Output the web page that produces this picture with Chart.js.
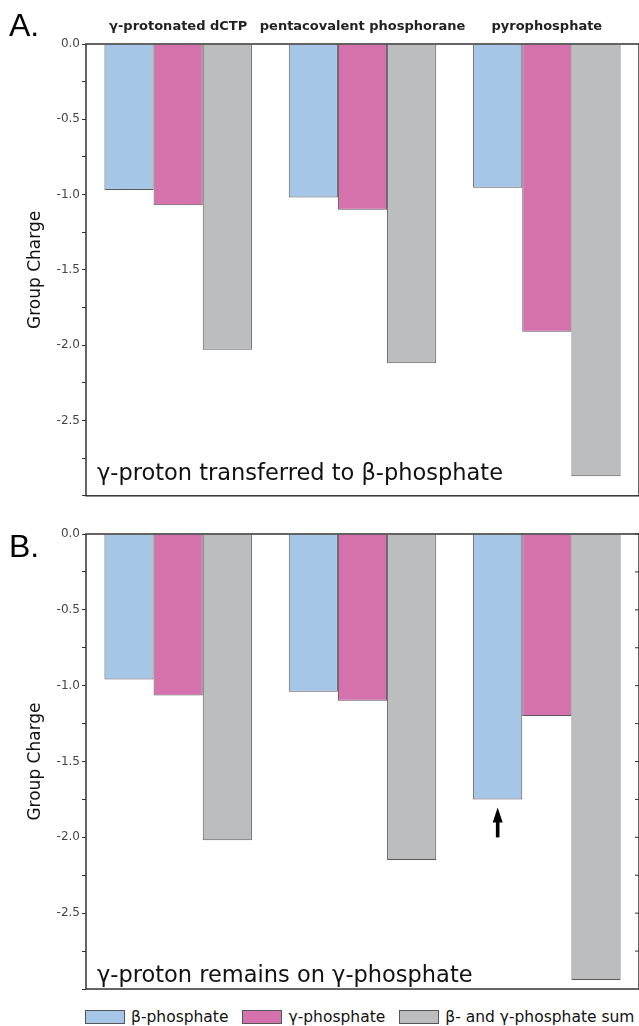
<!DOCTYPE html>
<html>
<head>
<meta charset="utf-8">
<script src="https://cdn.jsdelivr.net/npm/chart.js@4.4.0/dist/chart.umd.min.js"></script>
<style>
body { margin: 0; background: #fff; width: 639px; height: 1026px; overflow: hidden; position: relative; font-family: "DejaVu Sans"; }
#boxA { position: absolute; left: 0; top: 0; width: 639px; height: 505px; }
#boxB { position: absolute; left: 0; top: 505px; width: 639px; height: 500px; }
#legend { position: absolute; left: 85px; top: 1008px; white-space: nowrap; font-size: 15.5px; color: #111; line-height: 18px; }
#legend .item { display: inline-flex; align-items: center; margin-right: 14px; }
#legend .swatch { display: inline-block; width: 38px; height: 12px; border: 1px solid #555; margin-right: 6px; }
</style>
</head>
<body>
<div id="boxA"><canvas id="chartA"></canvas></div>
<div id="boxB"><canvas id="chartB"></canvas></div>
<div id="legend"></div>
<script>
var categories = ["γ-protonated dCTP", "pentacovalent phosphorane", "pyrophosphate"];
var seriesNames = ["β-phosphate", "γ-phosphate", "β- and γ-phosphate sum"];
var barColors = ["#A6C6E8", "#D572AD", "#BCBDBF"];

// A: gamma-proton transferred to beta-phosphate
var betaA = [-0.97, -1.02, -0.955];
var gammaA = [-1.07, -1.10, -1.91];
var sumA = [-2.03, -2.12, -2.87];

// B: gamma-proton remains on gamma-phosphate
var betaB = [-0.96, -1.04, -1.75];
var gammaB = [-1.065, -1.10, -1.20];
var sumB = [-2.02, -2.15, -2.94];

var yMin = -3.0, yMax = 0.0, yStep = 0.25;

Chart.defaults.font.family = "DejaVu Sans";
Chart.defaults.color = "#333";

var framePlugin = {
    id: "frame",
    afterDraw: function(chart) {
        var o = chart.options.plugins.frame;
        var a = chart.chartArea;
        var ctx = chart.ctx;
        ctx.save();
        ctx.strokeStyle = "#333";
        ctx.lineWidth = 1.5;
        ctx.strokeRect(a.left, a.top, a.right - a.left, a.bottom - a.top);

        // inward ticks on the right edge (panel B only)
        if (o.rightTicks) {
            var y = chart.scales.y;
            ctx.lineWidth = 1;
            for (var v = yMax; v > yMin; v -= yStep) {
                var py = y.getPixelForValue(v);
                ctx.beginPath();
                ctx.moveTo(a.right - 4, py);
                ctx.lineTo(a.right, py);
                ctx.stroke();
            }
        }

        ctx.fillStyle = "#000";
        ctx.textBaseline = "alphabetic";
        ctx.font = '32px "Liberation Sans"';
        ctx.fillText(o.panel, 9, o.panelY);
        ctx.fillStyle = "#111";
        ctx.font = '22.5px "DejaVu Sans"';
        ctx.fillText(o.note, a.left + 11, a.bottom - o.noteGap);

        if (o.arrow) {
            var bar = chart.getDatasetMeta(0).data[2];
            var x = bar.x;
            var tip = bar.y + 8;
            ctx.fillStyle = "#000";
            ctx.beginPath();
            ctx.moveTo(x, tip);
            ctx.lineTo(x - 5, tip + 15);
            ctx.lineTo(x + 5, tip + 15);
            ctx.closePath();
            ctx.fill();
            ctx.fillRect(x - 1.8, tip + 12, 3.6, 18);
        }
        ctx.restore();
    }
};

function makeDatasets(beta, gamma, sum) {
    var vals = [beta, gamma, sum];
    return vals.map(function(v, i) {
        return {
            label: seriesNames[i],
            data: v,
            backgroundColor: barColors[i],
            borderColor: "#5a5a5a",
            borderWidth: 1,
            categoryPercentage: 0.8,
            barPercentage: 1.0
        };
    });
}

function yAxis() {
    return {
        min: yMin,
        max: yMax,
        border: { display: false },
        grid: { drawOnChartArea: false, drawTicks: true, tickLength: 4, color: "#333" },
        ticks: {
            stepSize: yStep,
            padding: 2,
            color: "#444",
            font: { size: 12 },
            callback: function(value) {
                var half = value * 2;
                if (Math.abs(half - Math.round(half)) > 1e-6 || value <= yMin) return "";
                return value.toFixed(1);
            }
        },
        title: {
            display: true,
            text: "Group Charge",
            color: "#111",
            font: { size: 17 },
            padding: { top: 25, bottom: 0 }
        },
        afterFit: function(scale) { scale.width = 86; }
    };
}

var chartA = new Chart("chartA", {
    type: "bar",
    data: {
        labels: categories,
        datasets: makeDatasets(betaA, gammaA, sumA)
    },
    options: {
        responsive: true,
        maintainAspectRatio: false,
        animation: false,
        layout: { padding: { top: 0, left: 0, right: 0, bottom: 7 } },
        scales: {
            x: {
                position: "top",
                border: { display: false },
                grid: { display: false, drawTicks: false },
                ticks: { padding: 10, color: "#222", font: { size: 13, weight: "bold" }, maxRotation: 0, autoSkip: false },
                afterFit: function(scale) { scale.height = 44; }
            },
            y: yAxis()
        },
        plugins: {
            legend: { display: false },
            tooltip: { enabled: false },
            frame: { panel: "A.", panelY: 36, note: "γ-proton transferred to β-phosphate", noteGap: 16, rightTicks: false, arrow: false }
        }
    },
    plugins: [framePlugin]
});

var chartB = new Chart("chartB", {
    type: "bar",
    data: {
        labels: categories,
        datasets: makeDatasets(betaB, gammaB, sumB)
    },
    options: {
        responsive: true,
        maintainAspectRatio: false,
        animation: false,
        layout: { padding: { top: 29, left: 0, right: 0, bottom: 16 } },
        scales: {
            x: { display: false },
            y: yAxis()
        },
        plugins: {
            legend: { display: false },
            tooltip: { enabled: false },
            frame: { panel: "B.", panelY: 52, note: "γ-proton remains on γ-phosphate", noteGap: 7, rightTicks: true, arrow: true }
        }
    },
    plugins: [framePlugin]
});

// legend below panel B, built from the chart's datasets
var legend = document.getElementById("legend");
chartB.data.datasets.forEach(function(ds) {
    var item = document.createElement("span");
    item.className = "item";
    var sw = document.createElement("span");
    sw.className = "swatch";
    sw.style.background = ds.backgroundColor;
    item.appendChild(sw);
    item.appendChild(document.createTextNode(ds.label));
    legend.appendChild(item);
});
</script>
</body>
</html>
